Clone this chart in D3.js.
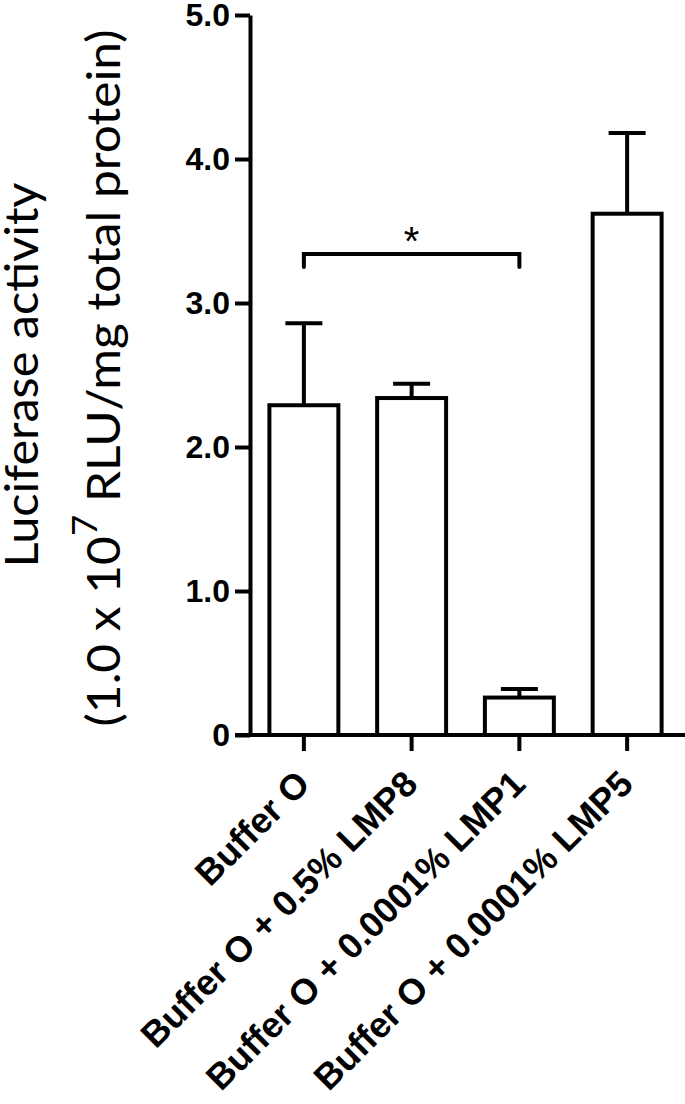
<!DOCTYPE html>
<html>
<head>
  <meta charset="utf-8">
  <title>Luciferase activity</title>
  <style>
  body { margin: 0; background: #fff; }
  .axis text { font-family: "Liberation Sans", Arial, sans-serif; font-weight: bold; fill: #000; }
  .axis path, .axis line { stroke: #000; stroke-width: 4; }
  .bar { fill: #fff; stroke: #000; stroke-width: 4; }
  .err, .bracket { fill: none; stroke: #000; stroke-width: 4; }
  .title { font-family: Lato, "Open Sans", sans-serif; fill: #000; }
  </style>
</head>

<body>
  <div id="chart"></div>
  <script src="https://d3js.org/d3.v7.min.js"></script>

  <script type="text/javascript">
    // data
    var categories = ["Buffer O", "Buffer O + 0.5% LMP8", "Buffer O + 0.0001% LMP1", "Buffer O + 0.0001% LMP5"];
    var means = [2.29, 2.34, 0.26, 3.62];
    var sems = [0.57, 0.10, 0.06, 0.56];
    var yTicks = [0, 1, 2, 3, 4, 5];
    var sigPair = [0, 2];
    var sigLevel = 3.34;
    var sigLabel = "*";

    var width = 685;
    var height = 1104;

    var svg = d3.select("#chart").append("svg")
        .attr("width", width)
        .attr("height", height);

    var y = d3.scaleLinear()
        .domain([0, 5])
        .range([735, 15]);

    var x = d3.scaleBand()
        .domain(categories)
        .range([250, 681])
        .paddingInner(0.36)
        .paddingOuter(0.18);

    var cx = function(i) { return x(categories[i]) + x.bandwidth() / 2; };

    // bars
    svg.append("g").selectAll("rect")
      .data(means)
      .enter().append("rect")
        .attr("class", "bar")
        .attr("x", function(d, i) { return x(categories[i]); })
        .attr("width", x.bandwidth())
        .attr("y", function(d) { return y(d); })
        .attr("height", function(d) { return y(0) - y(d); });

    // error bars (upper only)
    var capW = 37;
    var err = svg.append("g").selectAll("g")
      .data(means)
      .enter().append("g");
    err.append("line")
        .attr("class", "err")
        .attr("x1", function(d, i) { return cx(i); })
        .attr("x2", function(d, i) { return cx(i); })
        .attr("y1", function(d) { return y(d); })
        .attr("y2", function(d, i) { return y(d + sems[i]); });
    err.append("line")
        .attr("class", "err")
        .attr("x1", function(d, i) { return cx(i) - capW / 2; })
        .attr("x2", function(d, i) { return cx(i) + capW / 2; })
        .attr("y1", function(d, i) { return y(d + sems[i]); })
        .attr("y2", function(d, i) { return y(d + sems[i]); });

    // significance bracket
    var drop = 13;
    svg.append("path")
        .attr("class", "bracket")
        .attr("stroke-linecap", "round")
        .attr("d", "M" + cx(sigPair[0]) + "," + (y(sigLevel) + drop) +
                   "V" + y(sigLevel) + "H" + cx(sigPair[1]) + "V" + (y(sigLevel) + drop));
    svg.append("text")
        .attr("x", (cx(sigPair[0]) + cx(sigPair[1])) / 2)
        .attr("y", y(sigLevel) + 1)
        .attr("text-anchor", "middle")
        .attr("font-family", "Liberation Sans, Arial, sans-serif")
        .attr("font-size", 40)
        .text(sigLabel);

    // y axis
    svg.append("g")
        .attr("class", "axis")
        .attr("transform", "translate(250,0)")
        .call(d3.axisLeft(y)
          .tickValues(yTicks)
          .tickSize(15)
          .tickSizeOuter(0)
          .tickPadding(5)
          .tickFormat(function(d) { return d ? d.toFixed(1) : "0"; }))
        .selectAll("text")
          .attr("font-size", 32);

    // x axis
    var xg = svg.append("g")
        .attr("class", "axis")
        .attr("transform", "translate(0," + y(0) + ")")
        .call(d3.axisBottom(x).tickSize(16).tickSizeOuter(0));
    xg.select(".domain").remove();
    xg.append("line")
        .attr("x1", 235).attr("x2", width)
        .attr("y1", 0).attr("y2", 0);
    xg.selectAll(".tick text")
        .attr("x", 0).attr("y", 0).attr("dy", 0)
        .attr("text-anchor", "end")
        .attr("font-size", 36)
        .attr("transform", "translate(8,51) rotate(-45)");

    // y title, two lines, narrowed to the original length
    function fitTitle(t, bx, midY, len) {
      var natural = t.node().getComputedTextLength();
      t.attr("transform", "translate(" + bx + "," + midY + ") rotate(-90) scale(" + (len / natural) + ",1)");
    }

    var t1 = svg.append("text")
        .attr("class", "title")
        .attr("text-anchor", "middle")
        .attr("font-size", 46)
        .text("Luciferase activity");
    fitTitle(t1, 38, 375, 385);

    var t2 = svg.append("text")
        .attr("class", "title")
        .attr("text-anchor", "middle")
        .attr("font-size", 46);
    t2.append("tspan").text("(1.0 x 10");
    t2.append("tspan").attr("font-size", 34).attr("dy", -23).text("7");
    t2.append("tspan").attr("dy", 23).text(" RLU/mg total protein)");
    fitTitle(t2, 120, 378, 697);
  </script>
</body>
</html>
